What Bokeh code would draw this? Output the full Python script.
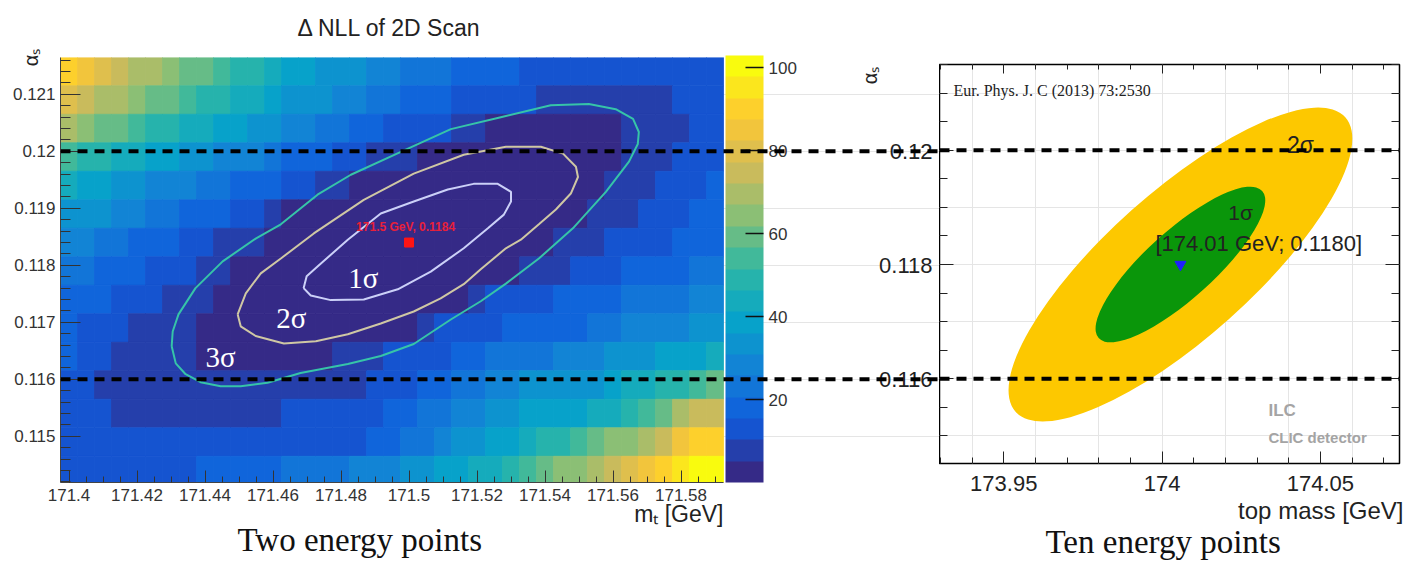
import numpy as np
from bokeh.plotting import figure
from bokeh.models import (Range1d, LinearAxis, FixedTicker, CustomJSTickFormatter, ColorBar,
                          LinearColorMapper, Span, Label, LabelSet, Title, ColumnDataSource)
from bokeh.transform import transform
from bokeh.core.properties import value
from bokeh.embed import file_html
from bokeh.resources import INLINE

SANS = "Liberation Sans"
SERIF = "Liberation Serif"

# ---------------------------------------------------------------- data (left: 2D scan)
mt_scan = [round(171.40 + 0.005 * i, 3) for i in range(39)]        # bin centres [GeV]
alpha_scan = [round(0.1214 - 0.0005 * j, 4) for j in range(15)]    # rows, top -> bottom
nll = [
    [88,84,80,76,72,67,63,60,57,54,50,47,44,41,38,36,33,31,29,27,25,23,21,20,18,17,16,15,14,12,11,11,11,11,11,11,12,14,15],
    [80,75,71,67,64,60,57,54,51,48,45,42,39,36,33,31,28,26,24,22,20,18,17,15,14,13,12,11,9,9,9,8,8,9,9,10,11,13,15],
    [68,64,60,57,54,51,48,46,43,41,38,36,33,29,26,23,21,19,17,15,14,12,11,10,8,4,3,2,2,2,2,3,4,6,7,8,10,12,14],
    [55,51,48,45,42,40,37,34,32,30,28,26,23,20,18,16,14,11,10,8,7,4,3,2,1,1,1,1,1,2,2,3,4,6,7,9,11,13,15],
    [45,41,37,35,32,30,28,26,24,22,20,18,16,13,11,9,7,4,3,2,1,0,0,0,0,0,1,1,2,2,3,4,6,8,9,11,12,14,16],
    [36,33,31,29,27,24,22,20,18,16,14,12,9,4,3,2,1,1,0,0,0,0,0,0,0,0,1,1,2,3,4,6,8,10,12,13,15,16,18],
    [30,27,25,22,20,18,16,14,12,10,9,7,4,3,2,1,1,0,0,0,0,0,0,0,0,1,1,2,4,6,8,10,12,13,14,15,17,18,20],
    [24,22,20,18,16,14,13,11,10,7,4,3,2,1,1,0,0,0,0,0,1,1,1,2,2,3,4,6,8,10,12,13,14,16,17,18,19,21,24],
    [20,18,16,14,13,11,10,8,7,4,3,2,1,1,1,1,1,1,2,2,2,3,3,4,8,11,12,13,15,17,18,19,20,21,22,23,24,27,30],
    [17,15,13,11,10,8,7,6,4,3,2,2,2,2,2,2,3,3,3,4,4,8,11,13,15,15,16,17,18,19,20,22,24,26,27,28,30,33,35],
    [16,14,12,10,9,8,7,6,4,3,3,3,3,3,4,4,7,9,10,11,12,13,15,17,19,21,22,23,24,27,29,30,31,32,35,37,38,40,45],
    [15,12,8,7,7,7,6,6,6,6,6,6,6,6,7,7,7,8,11,13,15,17,19,21,23,27,30,31,33,34,35,36,40,42,44,49,51,56,58],
    [13,12,11,8,8,8,8,8,8,8,8,8,9,11,12,12,13,14,15,16,18,21,24,27,30,33,36,38,39,40,41,43,46,48,56,60,67,73,77],
    [13,12,12,12,11,11,11,11,11,11,11,12,12,12,12,13,13,15,17,19,22,25,29,33,36,39,41,43,47,50,52,58,62,66,72,76,83,88,91],
    [13,13,12,12,12,13,13,14,16,17,18,19,20,21,22,23,25,27,29,30,32,34,37,40,42,44,50,54,57,62,65,68,75,79,86,90,96,101,103],
]

sigma1_mt = [171.4690, 171.4699, 171.4731, 171.4820, 171.4917, 171.5014, 171.5114, 171.5190, 171.5261, 171.5300,
             171.5300, 171.5279, 171.5232, 171.5161, 171.5064, 171.4967, 171.4867, 171.4770, 171.4711, 171.4690]
sigma1_alpha = [0.11760, 0.11781, 0.11798, 0.11845, 0.11891, 0.11912, 0.11933, 0.11943, 0.11943, 0.11929,
                0.11912, 0.11889, 0.11865, 0.11830, 0.11789, 0.11758, 0.11740, 0.11739, 0.11747, 0.11760]
sigma2_mt = [171.4496, 171.4520, 171.4564, 171.4623, 171.4720, 171.4867, 171.5014, 171.5161, 171.5285, 171.5388,
             171.5453, 171.5491, 171.5497, 171.5476, 171.5432, 171.5382, 171.5329, 171.5285, 171.5211, 171.5161,
             171.5093, 171.5014, 171.4917, 171.4820, 171.4726, 171.4632, 171.4549, 171.4505, 171.4496]
sigma2_alpha = [0.11714, 0.11751, 0.11786, 0.11812, 0.11856, 0.11915, 0.11961, 0.11994, 0.12008, 0.12008,
                0.11996, 0.11973, 0.11955, 0.11926, 0.11898, 0.11872, 0.11845, 0.11830, 0.11793, 0.11767,
                0.11742, 0.11719, 0.11698, 0.11679, 0.11667, 0.11663, 0.11676, 0.11693, 0.11714]
sigma3_mt = [171.4302, 171.4305, 171.4322, 171.4372, 171.4452, 171.4549, 171.4623, 171.4731, 171.4829, 171.4976,
             171.5123, 171.5270, 171.5417, 171.5529, 171.5608, 171.5659, 171.5676, 171.5673, 171.5647, 171.5579,
             171.5482, 171.5382, 171.5285, 171.5211, 171.5123, 171.5014, 171.4917, 171.4820, 171.4681, 171.4584,
             171.4505, 171.4446, 171.4387, 171.4343, 171.4314, 171.4302]
sigma3_alpha = [0.11658, 0.11684, 0.11714, 0.11760, 0.11807, 0.11847, 0.11872, 0.11924, 0.11959, 0.11999,
                0.12039, 0.12060, 0.12081, 0.12083, 0.12074, 0.12057, 0.12034, 0.12013, 0.11982, 0.11929,
                0.11865, 0.11812, 0.11768, 0.11737, 0.11705, 0.11662, 0.11641, 0.11627, 0.11611, 0.11594,
                0.11588, 0.11588, 0.11595, 0.11609, 0.11628, 0.11658]
sigma_labels = ["1σ", "2σ", "3σ"]
sigma_label_mt = [171.4866, 171.4654, 171.4446]
sigma_label_alpha = [0.11777, 0.11707, 0.11639]

left_best_mt = [171.5]
left_best_alpha = [0.1184]
left_best_text = "171.5 GeV, 0.1184"

ref_alpha = [0.12, 0.116]                      # dashed reference lines

left_mt_ticks = [171.40, 171.42, 171.44, 171.46, 171.48, 171.50, 171.52, 171.54, 171.56, 171.58]
left_alpha_ticks = [0.115, 0.116, 0.117, 0.118, 0.119, 0.120, 0.121]
cbar_ticks = [20, 40, 60, 80, 100]
cbar_max = 103

# ---------------------------------------------------------------- data (right: ten points)
right_best_mt = [174.0058]
right_best_alpha = [0.1180]
right_best_text = "[174.01 GeV; 0.1180]"
right_mt_ticks = [173.95, 174.00, 174.05]
right_alpha_ticks = [0.116, 0.118, 0.12]
right_alpha_tick_labels = ["0.116", "0.118", "0.12"]

# ---------------------------------------------------------------- palette (ROOT kBird)
def bird_palette(n):
    stops = [0.0, 0.125, 0.25, 0.375, 0.5, 0.625, 0.75, 0.875, 1.0]
    red = [0.2082, 0.0592, 0.0780, 0.0232, 0.1802, 0.5301, 0.8186, 0.9956, 0.9764]
    green = [0.1664, 0.3599, 0.5041, 0.6419, 0.7178, 0.7492, 0.7328, 0.7862, 0.9832]
    blue = [0.5293, 0.8684, 0.8385, 0.7914, 0.6425, 0.4662, 0.3499, 0.1968, 0.0539]
    out = []
    for t in np.linspace(0, 1, n):
        r, g, b = (float(np.interp(t, stops, c)) for c in (red, green, blue))
        out.append("#%02x%02x%02x" % (int(round(r * 255)), int(round(g * 255)), int(round(b * 255))))
    return out

palette = bird_palette(20)
mapper = LinearColorMapper(palette=palette, low=0, high=cbar_max)
fmt = CustomJSTickFormatter(code="return String(Number(tick.toFixed(6)));")

def minor(a, b, step):
    n = int(round((b - a) / step))
    return [round(a + k * step, 6) for k in range(n + 1)]

# ================================================================ LEFT figure
x_lo, x_hi = 171.3975, 171.5925
PX_PER_GEV = 3400.0
L = figure(width=939, height=561,
           x_range=Range1d(x_lo, x_lo + 879 / PX_PER_GEV), y_range=Range1d(0.11419, 0.121647),
           min_border_left=60, min_border_right=0, min_border_top=55, min_border_bottom=79,
           toolbar_location=None, output_backend="svg",
           x_axis_location=None, y_axis_location=None)
L.outline_line_color = None
L.background_fill_color = "white"
L.border_fill_color = "white"
L.styles = {"position": "absolute", "left": "0px", "top": "0px"}

hx, hy, hz = [], [], []
for j, a in enumerate(alpha_scan):
    for i, m in enumerate(mt_scan):
        hx.append(m); hy.append(a); hz.append(nll[j][i])
hsrc = ColumnDataSource(dict(x=hx, y=hy, z=hz))
L.rect(x="x", y="y", width=0.005, height=0.0005, source=hsrc,
       fill_color=transform("z", mapper), line_color=transform("z", mapper), line_width=0.8)

L.line(sigma3_mt, sigma3_alpha, line_color="#36c4a8", line_width=2)
L.line(sigma2_mt, sigma2_alpha, line_color="#cfc7a4", line_width=2)
L.line(sigma1_mt, sigma1_alpha, line_color="#cbd0f8", line_width=2)
L.scatter(left_best_mt, left_best_alpha, marker="square", size=9, color="#ff1414")
L.add_layout(Label(x=left_best_mt[0] - 0.001, y=0.11868, text=left_best_text, text_color="#e8203a",
                   text_font=SANS, text_font_size="12px", text_font_style="bold",
                   text_align="center", text_baseline="middle"))
for t, mx, ay in zip(sigma_labels, sigma_label_mt, sigma_label_alpha):
    L.add_layout(Label(x=mx, y=ay, text=t, text_color="white", text_font=SERIF,
                       text_font_size="29px", text_align="center", text_baseline="middle"))

xa = LinearAxis(ticker=FixedTicker(ticks=left_mt_ticks, minor_ticks=minor(171.40, 171.59, 0.005)),
                formatter=fmt, bounds=(x_lo, x_hi),
                major_tick_in=12, major_tick_out=0, minor_tick_in=6, minor_tick_out=0,
                major_label_standoff=6, major_label_text_font=SANS, major_label_text_font_size="17px",
                major_label_text_color="#333", axis_line_color="#444",
                major_tick_line_color="#333", minor_tick_line_color="#333")
ya = LinearAxis(ticker=FixedTicker(ticks=left_alpha_ticks, minor_ticks=minor(0.1142, 0.1216, 0.0002)),
                formatter=fmt,
                major_tick_in=20, major_tick_out=0, minor_tick_in=10, minor_tick_out=0,
                major_label_standoff=5, major_label_text_font=SANS, major_label_text_font_size="17px",
                major_label_text_color="#333", axis_line_color="#444",
                major_tick_line_color="#333", minor_tick_line_color="#333",
                axis_label="αₛ", axis_label_standoff=-32, axis_label_text_font=SANS,
                axis_label_text_font_size="20px", axis_label_text_font_style="normal",
                axis_label_text_color="#222")
try:
    ya.axis_label_align = "end"
except Exception:
    pass
L.add_layout(xa, "below")
L.add_layout(ya, "left")
# x-axis title, right-aligned to the end of the heat map (offset counts leftwards from the frame end)
L.add_layout(Title(text="mₜ [GeV]", align="right", offset=216, standoff=-9,
                   text_font=SANS, text_font_size="23px", text_font_style="normal", text_color="#222"), "below")
L.add_layout(Title(text="Two energy points", align="left", offset=177, standoff=-6,
                   text_font=SERIF, text_font_size="33px", text_font_style="normal", text_color="#111"), "below")

L.title.text = "Δ NLL of 2D Scan"
L.title.align = "left"
L.title.vertical_align = "top"
L.title.offset = 237
L.title.standoff = 29
L.title.text_font = SANS
L.title.text_font_size = "23px"
L.title.text_font_style = "normal"
L.title.text_color = "#222"

cb = ColorBar(color_mapper=mapper, location=(665, 0), width=38, height=427, padding=0, margin=0,
              ticker=FixedTicker(ticks=cbar_ticks), major_tick_in=18, major_tick_out=0,
              major_tick_line_color="#111", major_tick_line_width=1.5, minor_tick_line_color=None,
              label_standoff=5, major_label_text_font=SANS, major_label_text_font_size="17px",
              major_label_text_color="#333", bar_line_color=None, border_line_color=None,
              background_fill_alpha=0)
L.add_layout(cb, "center")

# tick labels and title of the right-hand plot's y axis (they sit left of its frame)
rl_src = ColumnDataSource(dict(y=right_alpha_ticks, t=right_alpha_tick_labels))
L.add_layout(LabelSet(x=872, y="y", text="t", x_units="screen", source=rl_src,
                      text_align="right", text_baseline="middle", text_font=value(SANS),
                      text_font_size=value("22px"), text_color="#222"))
L.add_layout(Label(x=809, y=407, x_units="screen", y_units="screen", text="αₛ", angle=np.pi / 2,
                   text_align="center", text_baseline="middle", text_font=SANS,
                   text_font_size="20px", text_color="#222"))

for a in ref_alpha:
    L.add_layout(Span(location=a, dimension="width", line_color="black", line_width=4, line_dash="10 7"))

# ================================================================ RIGHT figure
R = figure(width=483, height=561,
           x_range=Range1d(173.9297, 174.0750), y_range=Range1d(0.114518, 0.1215),
           min_border_left=0, min_border_right=23, min_border_top=64, min_border_bottom=98,
           toolbar_location=None, output_backend="svg",
           x_axis_location=None, y_axis_location=None, title_location=None)
R.outline_line_color = "black"
R.outline_line_width = 1.5
R.background_fill_color = "white"
R.border_fill_color = "white"
R.styles = {"position": "absolute", "left": "939px", "top": "0px"}

R.ellipse(x=right_best_mt, y=right_best_alpha, width=442, height=146, angle=0.7287,
          width_units="screen", height_units="screen", fill_color="#fdc800", line_color=None)
R.ellipse(x=right_best_mt, y=right_best_alpha, width=220, height=68, angle=0.733,
          width_units="screen", height_units="screen", fill_color="#0a960a", line_color=None)
R.scatter(right_best_mt, right_best_alpha, marker="inverted_triangle", size=11, color="#1f1fff")

xticker_r = FixedTicker(ticks=right_mt_ticks, minor_ticks=minor(173.93, 174.07, 0.01))
yticker_r = FixedTicker(ticks=right_alpha_ticks, minor_ticks=minor(0.1145, 0.1215, 0.0005))
common = dict(major_tick_out=0, minor_tick_out=0, axis_line_color=None,
              major_tick_line_color="#222", minor_tick_line_color="#222")
rxb = LinearAxis(ticker=xticker_r, formatter=fmt, major_tick_in=12, minor_tick_in=6,
                 major_label_standoff=12, major_label_text_font=SANS, major_label_text_font_size="22px",
                 major_label_text_color="#222", **common)
R.add_layout(rxb, "below")
R.add_layout(Title(text="top mass [GeV]", align="right", offset=-4, standoff=2, text_font=SANS,
                   text_font_size="24px", text_font_style="normal", text_color="#222"), "below")
R.add_layout(Title(text="Ten energy points", align="left", offset=106, standoff=-6, text_font=SERIF,
                   text_font_size="33px", text_font_style="normal", text_color="#111"), "below")
hidden = dict(major_label_text_font_size="0px", major_label_standoff=0, major_label_text_color=None)
R.add_layout(LinearAxis(ticker=xticker_r, major_tick_in=9, minor_tick_in=5, **hidden, **common), "above")
R.add_layout(LinearAxis(ticker=yticker_r, major_tick_in=14, minor_tick_in=8, **hidden, **common), "left")
R.add_layout(LinearAxis(ticker=yticker_r, major_tick_in=14, minor_tick_in=8, **hidden, **common), "right")

R.add_layout(Label(x=173.9341, y=0.12105, text="Eur. Phys. J. C (2013) 73:2530", text_font=SERIF,
                   text_font_size="16px", text_color="#222", text_align="left", text_baseline="middle"))
R.add_layout(Label(x=174.0248, y=0.11891, text="1σ", text_font=SANS, text_font_size="21px",
                   text_color="#222", text_align="center", text_baseline="middle"))
R.add_layout(Label(x=174.0437, y=0.1201, text="2σ", text_font=SANS, text_font_size="23px",
                   text_color="#222", text_align="center", text_baseline="middle"))
R.add_layout(Label(x=173.9979, y=0.11837, text=right_best_text, text_font=SANS, text_font_size="22px",
                   text_color="#222", text_align="left", text_baseline="middle"))
R.add_layout(Label(x=174.0336, y=0.11545, text="ILC", text_font=SANS, text_font_size="17px",
                   text_font_style="bold", text_color="#a4a4a4", text_align="left", text_baseline="middle"))
R.add_layout(Label(x=174.0336, y=0.11497, text="CLIC detector", text_font=SANS, text_font_size="15px",
                   text_font_style="bold", text_color="#a4a4a4", text_align="left", text_baseline="middle"))

for a in ref_alpha:
    R.add_layout(Span(location=a, dimension="width", line_color="black", line_width=4, line_dash="10 7"))

open("out.html", "w").write(file_html([L, R], INLINE))
